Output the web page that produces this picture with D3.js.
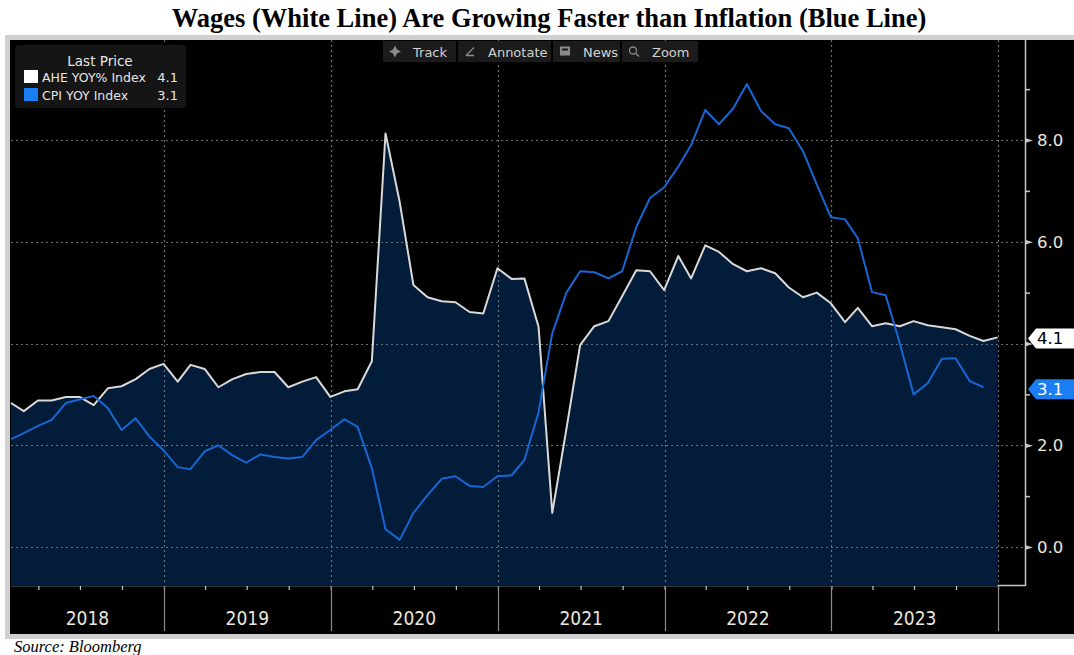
<!DOCTYPE html>
<html>
<head>
<meta charset="utf-8">
<script src="https://cdn.jsdelivr.net/npm/d3@7"></script>
<style>
  html, body { margin: 0; padding: 0; background: #ffffff; }
  svg { display: block; }
</style>
</head>
<body>
<script>
// ---------------- DATA ----------------
const startYear = 2018;
const years = ["2018", "2019", "2020", "2021", "2022", "2023"];
// AHE YOY% (average hourly earnings), monthly Jan 2018 – Dec 2023
const aheValues = [
  2.83, 2.67, 2.88, 2.88, 2.95, 2.95, 2.79, 3.12, 3.16, 3.30, 3.50, 3.60,
  3.25, 3.58, 3.50, 3.14, 3.30, 3.40, 3.44, 3.44, 3.14, 3.25, 3.34, 2.95,
  3.06, 3.10, 3.65, 8.13, 6.78, 5.15, 4.91, 4.83, 4.81, 4.62, 4.59, 5.48,
  5.27, 5.28, 4.33, 0.67, 2.32, 3.97, 4.34, 4.44, 4.93, 5.44, 5.42, 5.05,
  5.72, 5.28, 5.93, 5.80, 5.56, 5.42, 5.48, 5.38, 5.10, 4.91, 5.00, 4.79,
  4.42, 4.70, 4.34, 4.40, 4.34, 4.44, 4.36, 4.32, 4.28, 4.15, 4.05, 4.12
];
// CPI YOY, monthly Jan 2018 – Nov 2023
const cpiValues = [
  2.12, 2.24, 2.38, 2.50, 2.83, 2.90, 2.97, 2.73, 2.30, 2.53, 2.17, 1.90,
  1.57, 1.53, 1.88, 2.00, 1.80, 1.66, 1.82, 1.77, 1.74, 1.77, 2.10, 2.30,
  2.51, 2.36, 1.55, 0.35, 0.14, 0.67, 1.02, 1.34, 1.39, 1.20, 1.18, 1.39,
  1.41, 1.71, 2.65, 4.20, 5.00, 5.42, 5.40, 5.28, 5.42, 6.29, 6.86, 7.07,
  7.48, 7.90, 8.59, 8.31, 8.62, 9.10, 8.57, 8.31, 8.23, 7.78, 7.13, 6.48,
  6.44, 6.07, 5.01, 4.95, 4.00, 3.00, 3.22, 3.70, 3.71, 3.26, 3.14
];
const lastAhe = "4.1";
const lastCpi = "3.1";
const majorTicks = [0, 2, 4, 6, 8];
const labelledTicks = [0, 2, 6, 8];   // 4.0 is covered by the 4.1 tag in the original
const minorTicks = [1, 3, 5, 7, 9];
const legendTitle = "Last Price";
const legendRows = [
  { name: "AHE YOY% Index", value: "4.1" },
  { name: "CPI YOY Index", value: "3.1" }
];
const toolbarItems = ["Track", "Annotate", "News", "Zoom"];
const titleText = "Wages (White Line) Are Growing Faster than Inflation (Blue Line)";
const sourceText = "Source: Bloomberg";

// ---------------- HELPERS ----------------
const monthEnd = i => new Date(Date.UTC(startYear, i + 1, 0));
const ahe = aheValues.map((v, i) => ({ date: monthEnd(i), v }));
const cpi = cpiValues.map((v, i) => ({ date: monthEnd(i), v }));

const W = 1074, H = 655;
const plot = { left: 11, right: 1025, top: 40, bottom: 585 };

const COL = {
  frame: "#d0d0d0",
  bg: "#000000",
  fill: "#031c3a",
  white: "#d9d9d9",
  blue: "#1866d2",
  blueBright: "#1a7df2",
  grid: "#6e6e6e",
  axis: "#c8c8c8",
  text: "#ece6da"
};
const UI_FONT = "'DejaVu Sans', Verdana, sans-serif";

const svg = d3.select("body").append("svg")
  .attr("width", W).attr("height", H)
  .attr("viewBox", `0 0 ${W} ${H}`);

// Title
svg.append("text")
  .attr("x", 549).attr("y", 27)
  .attr("text-anchor", "middle")
  .attr("font-family", "'Liberation Serif', 'Times New Roman', serif")
  .attr("font-weight", "bold")
  .attr("font-size", 26.5)
  .attr("fill", "#000")
  .text(titleText);

// Frame + black panel
svg.append("rect").attr("x", 5).attr("y", 35).attr("width", W - 5).attr("height", 604).attr("fill", COL.frame);
svg.append("rect").attr("x", 10).attr("y", 40).attr("width", W - 10).attr("height", 594).attr("fill", COL.bg);

// Source
svg.append("text")
  .attr("x", 14).attr("y", 652)
  .attr("font-family", "'Liberation Serif', 'Times New Roman', serif")
  .attr("font-style", "italic")
  .attr("font-size", 16.5)
  .attr("fill", "#000")
  .text(sourceText);

// Scales
const x = d3.scaleUtc()
  .domain([new Date(Date.UTC(2018, 0, 31)), new Date(Date.UTC(2024, 1, 29))])
  .range([plot.left, plot.right]);
const y = d3.scaleLinear().domain([0, 8]).range([547, 140]);

// Plot bottom border (under fill)
svg.append("line")
  .attr("x1", plot.left).attr("x2", plot.right)
  .attr("y1", plot.bottom + 0.5).attr("y2", plot.bottom + 0.5)
  .attr("stroke", COL.axis).attr("stroke-width", 1.5);

// Area under AHE
const area = d3.area()
  .x(d => x(d.date))
  .y0(plot.bottom + 1)
  .y1(d => y(d.v));
svg.append("path").datum(ahe).attr("d", area).attr("fill", COL.fill);

// Grid: horizontal dotted
const g = svg.append("g");
g.selectAll("line.h").data(majorTicks).join("line")
  .attr("x1", plot.left).attr("x2", plot.right)
  .attr("y1", d => Math.round(y(d)) + 0.5).attr("y2", d => Math.round(y(d)) + 0.5)
  .attr("stroke", COL.grid).attr("stroke-width", 1.2)
  .attr("stroke-dasharray", "2,3");
// Grid: vertical dotted at year boundaries
const yearStarts = d3.range(2019, 2025).map(yr => new Date(Date.UTC(yr, 0, 1)));
g.selectAll("line.v").data(yearStarts).join("line")
  .attr("x1", d => Math.round(x(d)) + 0.5).attr("x2", d => Math.round(x(d)) + 0.5)
  .attr("y1", plot.top).attr("y2", plot.bottom)
  .attr("stroke", COL.grid).attr("stroke-width", 1.2)
  .attr("stroke-dasharray", "2,3");

// Lines
const line = d3.line().x(d => x(d.date)).y(d => y(d.v));
svg.append("path").datum(ahe).attr("d", line)
  .attr("fill", "none").attr("stroke", COL.white).attr("stroke-width", 2).attr("stroke-linejoin", "round");
svg.append("path").datum(cpi).attr("d", line)
  .attr("fill", "none").attr("stroke", COL.blue).attr("stroke-width", 2).attr("stroke-linejoin", "round");

// Right axis: major ticks (wedges) with labels
const yAxis = d3.axisRight(y).tickValues(majorTicks)
  .tickFormat(d => labelledTicks.includes(d) ? d3.format(".1f")(d) : "")
  .tickSize(0).tickPadding(12);
const ya = svg.append("g").attr("transform", `translate(${plot.right},0)`).call(yAxis);
ya.select(".domain").remove();
ya.selectAll("text")
  .attr("fill", COL.text)
  .attr("font-family", UI_FONT)
  .attr("font-size", 16.5);
ya.selectAll(".tick").append("path")
  .attr("d", "M0,-2.5L0,2.5L8,0Z")
  .attr("fill", COL.axis);
const yMinor = d3.axisRight(y).tickValues(minorTicks).tickFormat("").tickSize(5);
const ym = svg.append("g").attr("transform", `translate(${plot.right},0)`).call(yMinor);
ym.select(".domain").remove();
ym.selectAll("line").attr("stroke", COL.axis).attr("stroke-width", 1.5);
svg.append("line")
  .attr("x1", plot.right + 0.5).attr("x2", plot.right + 0.5)
  .attr("y1", plot.top).attr("y2", plot.bottom + 1)
  .attr("stroke", COL.axis).attr("stroke-width", 1.5);

// Bottom axis: quarterly ticks
const xAxis = d3.axisBottom(x).ticks(d3.utcMonth.every(3)).tickFormat("").tickSize(4);
const xa = svg.append("g").attr("transform", `translate(0,${plot.bottom + 1})`).call(xAxis);
xa.select(".domain").remove();
xa.selectAll("line").attr("stroke", COL.axis).attr("stroke-width", 1.2);
// Year separators
svg.append("g").selectAll("line").data(yearStarts).join("line")
  .attr("x1", d => Math.round(x(d)) + 0.5).attr("x2", d => Math.round(x(d)) + 0.5)
  .attr("y1", plot.bottom + 1).attr("y2", 631)
  .attr("stroke", "#8a8a8a").attr("stroke-width", 1.2);
// Year labels centred on visible span
svg.append("g").selectAll("text").data(years).join("text")
  .attr("x", d => {
    const a = Math.max(plot.left, x(new Date(Date.UTC(+d, 0, 1))));
    const b = Math.min(plot.right, x(new Date(Date.UTC(+d + 1, 0, 1))));
    return (a + b) / 2;
  })
  .attr("y", 625)
  .attr("text-anchor", "middle")
  .attr("font-family", "'DejaVu Sans Condensed', 'DejaVu Sans', sans-serif")
  .attr("font-size", 19)
  .attr("fill", COL.text)
  .text(d => d);

// Last value tags
function tag(val, label, bg, fg) {
  const yy = y(val);
  svg.append("path")
    .attr("d", `M${plot.right + 3},${yy} L${plot.right + 11},${yy - 10} L${W},${yy - 10} L${W},${yy + 10} L${plot.right + 11},${yy + 10} Z`)
    .attr("fill", bg);
  svg.append("text")
    .attr("x", plot.right + 12).attr("y", yy + 6)
    .attr("font-family", UI_FONT)
    .attr("font-size", 16.5)
    .attr("fill", fg)
    .text(label);
}
tag(+lastAhe, lastAhe, "#ffffff", "#000000");
tag(+lastCpi, lastCpi, COL.blueBright, "#ffffff");

// Legend
const lg = svg.append("g");
lg.append("rect").attr("x", 15).attr("y", 45).attr("width", 171).attr("height", 63).attr("rx", 4)
  .attr("fill", "#151515");
lg.append("text").attr("x", 100).attr("y", 66).attr("text-anchor", "middle")
  .attr("font-family", UI_FONT).attr("font-size", 13.5)
  .attr("fill", "#e6e6e6").text(legendTitle);
const legendColors = ["#ffffff", COL.blueBright];
legendRows.forEach((r, i) => {
  const yy = 70 + i * 18;
  lg.append("rect").attr("x", 24).attr("y", yy).attr("width", 14).attr("height", 13).attr("fill", legendColors[i]);
  lg.append("text").attr("x", 42).attr("y", yy + 11.5)
    .attr("font-family", UI_FONT).attr("font-size", 12.5)
    .attr("fill", "#e6e6e6").text(r.name);
  lg.append("text").attr("x", 178).attr("y", yy + 11.5).attr("text-anchor", "end")
    .attr("font-family", UI_FONT).attr("font-size", 13)
    .attr("fill", "#e6e6e6").text(r.value);
});

// Toolbar
const tb = svg.append("g");
const btnX = [383, 458, 553, 622, 700];
toolbarItems.forEach((t, i) => {
  const x0 = btnX[i], x1 = btnX[i + 1] - 2;
  tb.append("rect").attr("x", x0).attr("y", 41).attr("width", x1 - x0).attr("height", 21).attr("fill", "#1b1b1b");
  const ix = x0 + 12, iy = 51.5;
  if (i === 0) {
    tb.append("path").attr("d", `M${ix},${iy - 6}L${ix + 2},${iy - 2}L${ix + 6},${iy}L${ix + 2},${iy + 2}L${ix},${iy + 6}L${ix - 2},${iy + 2}L${ix - 6},${iy}L${ix - 2},${iy - 2}Z`).attr("fill", "#8a8a8a");
  } else if (i === 1) {
    tb.append("path").attr("d", `M${ix - 4},${iy + 4}L${ix + 4},${iy - 4}M${ix - 4},${iy + 4}L${ix + 4},${iy + 4}`).attr("stroke", "#8a8a8a").attr("stroke-width", 1.3).attr("fill", "none");
  } else if (i === 2) {
    tb.append("rect").attr("x", ix - 5).attr("y", iy - 5).attr("width", 10).attr("height", 9).attr("fill", "#8a8a8a");
    tb.append("rect").attr("x", ix - 3).attr("y", iy - 3).attr("width", 6).attr("height", 2).attr("fill", "#1b1b1b");
  } else {
    tb.append("circle").attr("cx", ix - 1).attr("cy", iy - 1).attr("r", 3.5).attr("stroke", "#8a8a8a").attr("stroke-width", 1.3).attr("fill", "none");
    tb.append("line").attr("x1", ix + 2).attr("y1", iy + 2).attr("x2", ix + 5).attr("y2", iy + 5).attr("stroke", "#8a8a8a").attr("stroke-width", 1.6);
  }
  tb.append("text").attr("x", ix + 18).attr("y", 56.5)
    .attr("font-family", UI_FONT).attr("font-size", 13)
    .attr("fill", "#d2d2d2").text(t);
});
</script>
</body>
</html>
